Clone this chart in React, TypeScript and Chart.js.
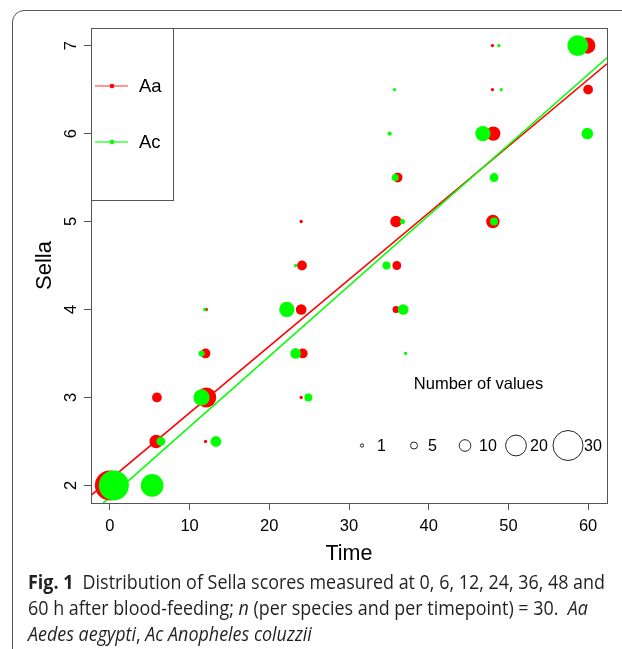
import React, { useEffect, useLayoutEffect, useRef } from 'react';
import { Chart, registerables } from 'chart.js';

Chart.register(...registerables);

// ---- axes ----
const xTicks = [0, 10, 20, 30, 40, 50, 60];
const yTicks = [2, 3, 4, 5, 6, 7];
const xMin = -2.37;
const xMax = 62.37;
const yMin = 1.8;
const yMax = 7.2;

// ---- Aa (Aedes aegypti): jittered time, Sella score, number of values ----
const aaTime = [0.0, 5.9, 5.8, 12.0, 12.1, 12.0, 12.1, 24.0, 24.1, 24.0, 24.2, 24.0, 36.1, 35.9, 36.0, 35.9, 48.0, 48.0, 48.1, 48.05, 59.9, 60.0];
const aaSella = [2, 3, 2.5, 3.5, 3, 2.5, 4, 5, 4.5, 4, 3.5, 3, 5.5, 5, 4.5, 4, 7, 6.5, 6, 5, 7, 6.5];
const aaCount = [30, 8, 12, 8, 19, 1, 1, 1, 8, 9, 8, 1, 8, 10, 7, 5, 1, 1, 13, 12, 15, 8];

// ---- Ac (Anopheles coluzzii) ----
const acTime = [0.5, 5.3, 6.4, 11.5, 11.5, 13.3, 11.9, 23.3, 22.2, 23.3, 24.9, 35.7, 35.1, 35.8, 36.7, 34.7, 36.8, 37.1, 48.8, 49.1, 46.8, 48.2, 48.2, 58.7, 59.9];
const acSella = [2, 2, 2.5, 3.5, 3, 2.5, 4, 4.5, 4, 3.5, 3, 6.5, 6, 5.5, 5, 4.5, 4, 3.5, 7, 6.5, 6, 5.5, 5, 7, 6];
const acCount = [30, 22, 7, 4, 15, 9, 1, 1, 14, 9, 6, 1, 2, 5, 3, 6, 9, 1, 1, 1, 14, 7, 6, 20, 10];

// ---- fitted regression lines (intercept, slope) ----
const aaIntercept = 2.066;
const aaSlope = 0.0758;
const acIntercept = 1.866;
const acSlope = 0.0801;

// ---- size legend ----
const sizeLegendCounts = [1, 5, 10, 20, 30];
const sizeLegendLabels = ['1', '5', '10', '20', '30'];
const seriesNames = ['Aa', 'Ac'];

const RED = '#ff0000';
const GREEN = '#00ff00';
const FONT = '"Liberation Sans", Arial, sans-serif';

const bubbleRadius = (n: number) => 0.46 * n + 1.2;

const decorPlugin = {
  id: 'decor',
  afterDraw(chart: any) {
    const { ctx, chartArea: a } = chart;
    ctx.save();
    ctx.strokeStyle = '#555';
    ctx.lineWidth = 1;
    // plot box
    ctx.strokeRect(a.left + 0.5, a.top + 0.5, a.right - a.left, a.bottom - a.top);
    // series legend box
    const lx = a.left, ly = a.top;
    ctx.strokeRect(lx + 0.5, ly + 0.5, 82, 172);
    const entries = [
      { name: seriesNames[0], color: RED, line: 'rgba(255,0,0,0.55)', y: ly + 58 },
      { name: seriesNames[1], color: GREEN, line: 'rgba(0,255,0,0.75)', y: ly + 114 },
    ];
    entries.forEach((e) => {
      ctx.strokeStyle = e.line;
      ctx.lineWidth = 1.5;
      ctx.beginPath();
      ctx.moveTo(lx + 4, e.y);
      ctx.lineTo(lx + 37, e.y);
      ctx.stroke();
      ctx.fillStyle = e.color;
      ctx.beginPath();
      ctx.arc(lx + 21, e.y, 2.3, 0, Math.PI * 2);
      ctx.fill();
      ctx.fillStyle = '#000';
      ctx.font = `18.5px ${FONT}`;
      ctx.textAlign = 'left';
      ctx.textBaseline = 'middle';
      ctx.fillText(e.name, lx + 48, e.y + 1);
    });
    // size legend
    ctx.fillStyle = '#000';
    ctx.font = `16.5px ${FONT}`;
    ctx.textAlign = 'center';
    ctx.textBaseline = 'middle';
    ctx.fillText('Number of values', 478.5, 384);
    const cx = [362, 414, 465, 516, 568];
    const tx = [377, 428, 479, 530, 584];
    ctx.strokeStyle = '#222';
    ctx.lineWidth = 1;
    ctx.textAlign = 'left';
    ctx.font = `16px ${FONT}`;
    sizeLegendCounts.forEach((n, i) => {
      ctx.beginPath();
      ctx.arc(cx[i], 445.5, bubbleRadius(n), 0, Math.PI * 2);
      ctx.stroke();
      ctx.fillText(sizeLegendLabels[i], tx[i], 447);
    });
    ctx.restore();
  },
};

function SellaChart() {
  const ref = useRef<HTMLCanvasElement | null>(null);
  useEffect(() => {
    if (!ref.current) return;
    const aaPts = aaTime.map((x, i) => ({ x, y: aaSella[i] }));
    const acPts = acTime.map((x, i) => ({ x, y: acSella[i] }));
    const chart = new Chart(ref.current, {
      type: 'scatter',
      data: {
        datasets: [
          {
            label: 'Ac',
            data: acPts,
            backgroundColor: GREEN,
            borderWidth: 0,
            pointRadius: (c: any) => bubbleRadius(acCount[c.dataIndex]),
            order: 0,
          },
          {
            label: 'Aa',
            data: aaPts,
            backgroundColor: RED,
            borderWidth: 0,
            pointRadius: (c: any) => bubbleRadius(aaCount[c.dataIndex]),
            order: 1,
          },
          {
            label: 'Ac fit',
            data: [
              { x: xMin, y: acIntercept + acSlope * xMin },
              { x: xMax, y: acIntercept + acSlope * xMax },
            ],
            showLine: true,
            borderColor: GREEN,
            borderWidth: 1.6,
            pointRadius: 0,
            order: 2,
          },
          {
            label: 'Aa fit',
            data: [
              { x: xMin, y: aaIntercept + aaSlope * xMin },
              { x: xMax, y: aaIntercept + aaSlope * xMax },
            ],
            showLine: true,
            borderColor: RED,
            borderWidth: 1.6,
            pointRadius: 0,
            order: 3,
          },
        ] as any,
      },
      options: {
        responsive: false,
        animation: false,
        devicePixelRatio: 1,
        layout: { padding: { left: 0, top: 28, right: 11, bottom: 0 } },
        plugins: { legend: { display: false }, tooltip: { enabled: false } },
        scales: {
          x: {
            type: 'linear',
            position: 'bottom',
            min: xMin,
            max: xMax,
            afterBuildTicks: (s: any) => {
              s.ticks = xTicks.map((v) => ({ value: v }));
            },
            afterFit: (s: any) => {
              s.height = 67;
            },
            border: { display: false },
            grid: { drawOnChartArea: false, drawTicks: true, tickLength: 7, color: '#555', lineWidth: 1 },
            ticks: {
              autoSkip: false,
              maxRotation: 0,
              padding: 7,
              color: '#000',
              font: { family: FONT, size: 16.5 },
            },
            title: {
              display: true,
              text: 'Time',
              color: '#000',
              font: { family: FONT, size: 21.5 },
              padding: { top: 0, bottom: 3 },
            },
          },
          y: {
            type: 'linear',
            min: yMin,
            max: yMax,
            afterBuildTicks: (s: any) => {
              s.ticks = yTicks.map((v) => ({ value: v }));
            },
            afterFit: (s: any) => {
              s.width = 91;
            },
            border: { display: false },
            grid: { drawOnChartArea: false, drawTicks: true, tickLength: 7, color: '#555', lineWidth: 1 },
            ticks: {
              autoSkip: false,
              minRotation: 90,
              maxRotation: 90,
              crossAlign: 'center',
              padding: 8.4,
              color: '#000',
              font: { family: FONT, size: 16.5 },
            },
            title: {
              display: true,
              text: 'Sella',
              color: '#000',
              font: { family: FONT, size: 22 },
              padding: { top: 32, bottom: 0 },
            },
          },
        },
      } as any,
      plugins: [decorPlugin],
    });
    return () => chart.destroy();
  }, []);
  return <canvas ref={ref} width={622} height={570} style={{ position: 'absolute', left: 0, top: 0, width: 622, height: 570 }} />;
}

export default function App() {
  const capRef = useRef<HTMLDivElement | null>(null);
  const line1Ref = useRef<HTMLSpanElement | null>(null);
  useLayoutEffect(() => {
    if (capRef.current && line1Ref.current) {
      const w = line1Ref.current.getBoundingClientRect().width;
      if (w > 0) capRef.current.style.transform = `scaleX(${577 / w})`;
    }
  }, []);
  return (
    <div style={{ position: 'fixed', left: 0, top: 0, width: 622, height: 649, background: '#fff', overflow: 'hidden' }}>
      <div
        style={{
          position: 'absolute',
          left: 12,
          top: 10,
          width: 700,
          height: 700,
          border: '1.5px solid #555',
          borderRadius: 12,
          boxSizing: 'border-box',
        }}
      />
      <SellaChart />
      <div
        ref={capRef}
        style={{
          position: 'absolute',
          left: 28,
          top: 569,
          fontFamily: '"Open Sans", "Noto Sans", sans-serif',
          fontSize: 19.5,
          lineHeight: '26px',
          color: '#231f20',
          whiteSpace: 'nowrap',
          transformOrigin: 'left top',
        }}
      >
        <div>
          <span ref={line1Ref}>
            <b style={{ marginRight: 10 }}>Fig. 1</b>Distribution of Sella scores measured at 0, 6, 12, 24, 36, 48 and
          </span>
        </div>
        <div>
          60 h after blood-feeding; <i>n</i> (per species and per timepoint) = 30.&nbsp;&nbsp;<i>Aa</i>
        </div>
        <div>
          <i>Aedes aegypti</i>, <i>Ac Anopheles coluzzii</i>
        </div>
      </div>
    </div>
  );
}
